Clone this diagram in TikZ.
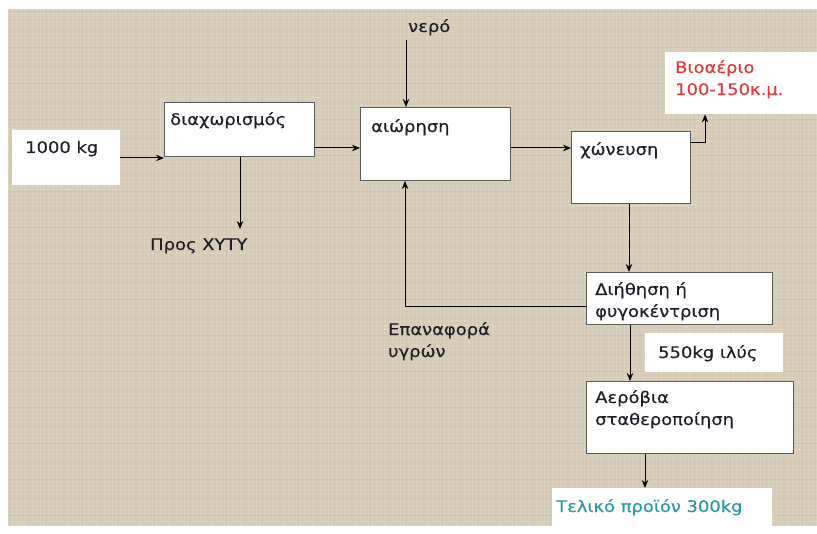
\documentclass[tikz,border=0pt]{standalone}
\usepackage{fontspec}
\setmainfont{DejaVu Sans}[FakeStretch=1.12, FakeBold=0.35]
\usetikzlibrary{arrows.meta}
\definecolor{canvas}{HTML}{D5CBB7}
\definecolor{canvaslight}{HTML}{E4DCCB}
\definecolor{canvasdark}{HTML}{C2B69F}
\definecolor{inkdark}{HTML}{1E1E28}
\definecolor{gasred}{HTML}{E5383B}
\definecolor{prodteal}{HTML}{2A98A6}
\tikzset{
  stagebox/.style={draw=black!65, line width=1pt, fill=white, inner sep=0pt},
  plainbox/.style={fill=white, draw=none, inner sep=0pt},
  txt/.style={anchor=base west, inner sep=0pt, text=inkdark, align=left},
  flow/.style={draw=black, line width=1pt, -{Stealth[length=8pt,width=6.5pt]}},
}
\begin{document}
\begin{tikzpicture}[x=1pt, y=-1pt, font=\fontsize{16}{22}\selectfont]
\useasboundingbox (0,0) rectangle (817,534);
% canvas background with a light woven texture
\fill[canvas] (8,9) rectangle (817,526);
\begin{scope}
  \clip (8,9) rectangle (817,526);
  \foreach \i in {0,...,203} {
    \draw[canvaslight, line width=0.7pt, opacity=0.35] ({8+4*\i},9) -- ({8+4*\i},526);
  }
  \foreach \j in {0,...,129} {
    \draw[canvaslight, line width=0.7pt, opacity=0.35] (8,{9+4*\j}) -- (817,{9+4*\j});
  }
  \foreach \i in {0,...,45} {
    \draw[canvasdark, line width=0.5pt, opacity=0.25] ({10+18*\i},9) -- ({10+18*\i},526);
  }
  \foreach \j in {0,...,29} {
    \draw[canvasdark, line width=0.5pt, opacity=0.25] (8,{11+18*\j}) -- (817,{11+18*\j});
  }
\end{scope}

% boxes
\node[plainbox, anchor=north west, minimum width=108pt, minimum height=55pt] (feed) at (12,130) {};
\node[stagebox, anchor=north west, minimum width=150pt, minimum height=54pt] (sep) at (164,102) {};
\node[stagebox, anchor=north west, minimum width=150pt, minimum height=73pt] (susp) at (360,107) {};
\node[stagebox, anchor=north west, minimum width=119pt, minimum height=72pt] (dig) at (571,131) {};
\node[plainbox, anchor=north west, minimum width=152pt, minimum height=62pt] (gas) at (665,52) {};
\node[stagebox, anchor=north west, minimum width=186pt, minimum height=52pt] (filt) at (586,272) {};
\node[plainbox, anchor=north west, minimum width=138pt, minimum height=39pt] (sludge) at (645,333) {};
\node[stagebox, anchor=north west, minimum width=207pt, minimum height=72pt] (aer) at (586,381) {};
\node[plainbox, anchor=north west, minimum width=220pt, minimum height=40pt] (prod) at (552,488) {};

% texts (two-line nodes sit on the baseline of their last line)
\node[txt] (tfeed) at (25,153) {1000 kg};
\node[txt] (tsep) at (170,125) {διαχωρισμός};
\node[txt] (tsusp) at (371,132) {αιώρηση};
\node[txt] (tdig) at (580,155) {χώνευση};
\node[txt, text=gasred] (tgas) at (675,95) {Βιοαέριο\\100-150κ.μ.};
\node[txt] (tfilt) at (595,317) {Διήθηση ή\\φυγοκέντριση};
\node[txt] (tsludge) at (658,358) {550kg ιλύς};
\node[txt] (taer) at (595,425) {Αερόβια\\σταθεροποίηση};
\node[txt, text=prodteal] (tprod) at (556,512) {Τελικό προϊόν 300kg};
\node[txt] (twater) at (408,32) {νερό};
\node[txt] (tlandfill) at (150,250) {Προς ΧΥΤΥ};
\node[txt] (treturn) at (388,357) {Επαναφορά\\υγρών};

% free ends of connectors
\coordinate (waterin) at (406,40);
\coordinate (landfill) at (240,229);

% connectors
\draw[flow] (feed.east |- 0,158) -- (sep.west |- 0,158);
\draw[flow] (sep.south -| landfill) -- (landfill);
\draw[flow] (sep.east |- 0,148) -- (susp.west |- 0,148);
\draw[flow] (waterin) -- (susp.north -| waterin);
\draw[flow] (susp.east |- 0,148) -- (dig.west |- 0,148);
\draw[flow] (dig.east |- 0,143) -- (705,143) -- (gas.south -| 705,0);
\draw[flow] (dig.south -| 629,0) -- (filt.north -| 629,0);
\draw[flow] (filt.west |- 0,307) -- (405,307) -- (susp.south -| 405,0);
\draw[flow] (filt.south -| 630,0) -- (aer.north -| 630,0);
\draw[flow] (aer.south -| 645,0) -- (prod.north -| 645,0);
\end{tikzpicture}
\end{document}
